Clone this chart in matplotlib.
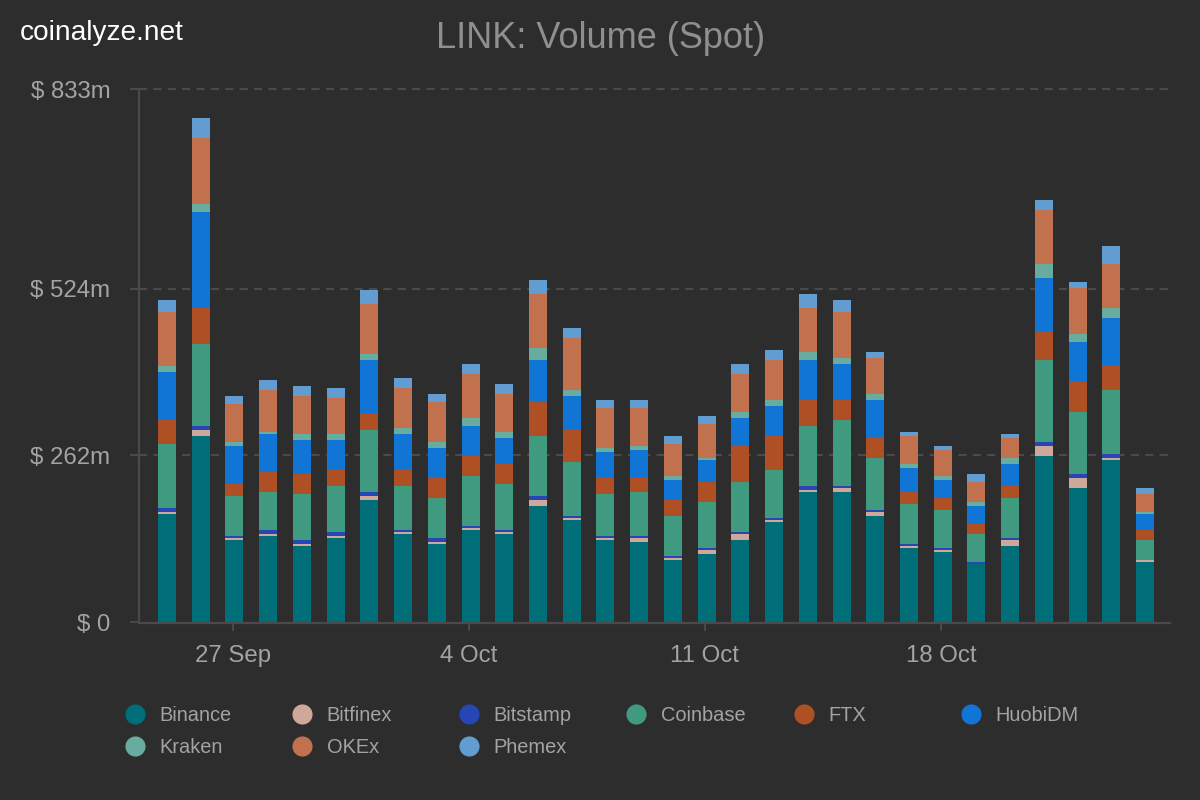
import matplotlib
matplotlib.use("Agg")
import matplotlib.pyplot as plt
from matplotlib.lines import Line2D
import numpy as np

plt.rcParams['font.family'] = ['Liberation Sans', 'DejaVu Sans']

exchanges = ["Binance", "Bitfinex", "Bitstamp", "Coinbase", "FTX", "HuobiDM", "Kraken", "OKEx", "Phemex"]
colors = ["#006e78", "#cfa899", "#2546b4", "#3f9a80", "#ae4f24", "#1075d5", "#68ab9f", "#c1714e", "#629dd1"]

binance = [168.5, 290.2, 127.9, 134.2, 118.6, 131.0, 190.3, 137.3, 121.7, 143.5, 137.3, 181.0, 159.1, 127.9, 124.8,
           96.7, 106.1, 127.9, 156.0, 202.8, 202.8, 165.4, 115.4, 109.2, 90.5, 118.6, 259.0, 209.0, 252.7, 93.6]
bitfinex = [3.1, 9.4, 3.1, 3.1, 3.1, 3.1, 6.2, 3.1, 3.1, 3.1, 3.1, 9.4, 3.1, 3.1, 6.2,
            3.1, 6.2, 9.4, 3.1, 3.1, 6.2, 6.2, 3.1, 3.1, 0.0, 9.4, 15.6, 15.6, 3.1, 3.1]
bitstamp = [6.2, 6.2, 3.1, 6.2, 6.2, 6.2, 6.2, 3.1, 6.2, 3.1, 3.1, 6.2, 3.1, 3.1, 3.1,
            3.1, 3.1, 3.1, 3.1, 6.2, 3.1, 3.1, 3.1, 3.1, 3.1, 3.1, 6.2, 6.2, 6.2, 0.0]
coinbase = [99.8, 127.9, 62.4, 59.3, 71.8, 71.8, 96.7, 68.6, 62.4, 78.0, 71.8, 93.6, 84.2, 65.5, 68.6,
            62.4, 71.8, 78.0, 74.9, 93.6, 103.0, 81.1, 62.4, 59.3, 43.7, 62.4, 127.9, 96.7, 99.8, 31.2]
ftx = [37.4, 56.2, 18.7, 31.2, 31.2, 25.0, 25.0, 25.0, 31.2, 31.2, 31.2, 53.0, 49.9, 25.0, 21.8,
       25.0, 31.2, 56.2, 53.0, 40.6, 31.2, 31.2, 18.7, 18.7, 15.6, 18.7, 43.7, 46.8, 37.4, 15.6]
huobi = [74.9, 149.8, 59.3, 59.3, 53.0, 46.8, 84.2, 56.2, 46.8, 46.8, 40.6, 65.5, 53.0, 40.6, 43.7,
         31.2, 34.3, 43.7, 46.8, 62.4, 56.2, 59.3, 37.4, 28.1, 28.1, 34.3, 84.2, 62.4, 74.9, 25.0]
kraken = [9.4, 12.5, 6.2, 3.1, 9.4, 9.4, 9.4, 9.4, 9.4, 12.5, 9.4, 18.7, 9.4, 6.2, 6.2,
          6.2, 3.1, 9.4, 9.4, 12.5, 9.4, 9.4, 6.2, 6.2, 6.2, 9.4, 21.8, 12.5, 15.6, 3.1]
okex = [84.2, 103.0, 59.3, 65.5, 59.3, 56.2, 78.0, 62.4, 62.4, 68.6, 59.3, 84.2, 81.1, 62.4, 59.3,
        49.9, 53.0, 59.3, 62.4, 68.6, 71.8, 56.2, 43.7, 40.6, 31.2, 31.2, 84.2, 71.8, 68.6, 28.1]
phemex = [18.7, 31.2, 12.5, 15.6, 15.6, 15.6, 21.8, 15.6, 12.5, 15.6, 15.6, 21.8, 15.6, 12.5, 12.5,
          12.5, 12.5, 15.6, 15.6, 21.8, 18.7, 9.4, 6.2, 6.2, 12.5, 6.2, 15.6, 9.4, 28.1, 9.4]
series = [binance, bitfinex, bitstamp, coinbase, ftx, huobi, kraken, okex, phemex]

x_ticks = [1.95, 8.95, 15.95, 22.95]
x_labels = ["27 Sep", "4 Oct", "11 Oct", "18 Oct"]
y_ticks = [0, 260.5, 519.8, 831.5]
y_labels = ["$ 0", "$ 262m", "$ 524m", "$ 833m"]

BG = "#2d2d2d"
AXIS = "#4a4a4a"
TEXT = "#a3a3a3"
W, H = 1200, 800

fig = plt.figure(figsize=(12, 8), dpi=100, facecolor=BG)
ax = fig.add_axes([139 / W, 1 - 623 / H, (1170 - 139) / W, (623 - 89) / H], facecolor=BG)

positions = np.arange(len(binance))
bottom = np.zeros(len(binance))
handles = []
for name, vals, col in zip(exchanges, series, colors):
    ax.bar(positions, vals, width=0.534, bottom=bottom, color=col, linewidth=0, label=name, zorder=3)
    bottom += np.array(vals)
    handles.append(Line2D([], [], linestyle="none", marker="o", markersize=14.5,
                          markerfacecolor=col, markeredgewidth=0))

ax.set_xlim(-0.83, 29.74)
ax.set_ylim(-1.56, 831.5)
ax.set_xticks(x_ticks, x_labels)
ax.set_yticks(y_ticks, y_labels)
ax.tick_params(axis="x", colors=AXIS, labelcolor=TEXT, labelsize=17.3, length=6, width=1.4, pad=9.6)
ax.tick_params(axis="y", colors=AXIS, labelcolor=TEXT, labelsize=17.3, length=6.5, width=1.4, pad=14)
for tl in ax.get_yticklabels():
    tl.set_ha("right")
for value in y_ticks[1:]:
    ax.axhline(value, color=AXIS, linewidth=1.5, linestyle=(0, (3.9, 3)), zorder=1, clip_on=False)
for side in ("top", "right"):
    ax.spines[side].set_visible(False)
for side in ("left", "bottom"):
    ax.spines[side].set_color(AXIS)
    ax.spines[side].set_linewidth(1.6)

fig.text(600.5 / W, 1 - 38 / H, "LINK: Volume (Spot)", color="#8f8f8f", fontsize=26, ha="center", va="center")
fig.text(20 / W, 1 - 33 / H, "coinalyze.net", color="#ffffff", fontsize=20.2, ha="left", va="center")

col_x = [119.5, 286.5, 453.5, 620.5, 788.5, 955.5]
for c, left in enumerate(col_x):
    idx = [i for i in (c, c + 6) if i < len(exchanges)]
    leg = fig.legend([handles[i] for i in idx], [exchanges[i] for i in idx],
                     loc="upper left", bbox_to_anchor=(left / W, 1 - 706 / H),
                     frameon=False, fontsize=14.4, labelcolor=TEXT, borderpad=0, borderaxespad=0,
                     handlelength=1.5, handletextpad=0.5, labelspacing=0.65)

fig.savefig("out.png", dpi=100, facecolor=BG)
